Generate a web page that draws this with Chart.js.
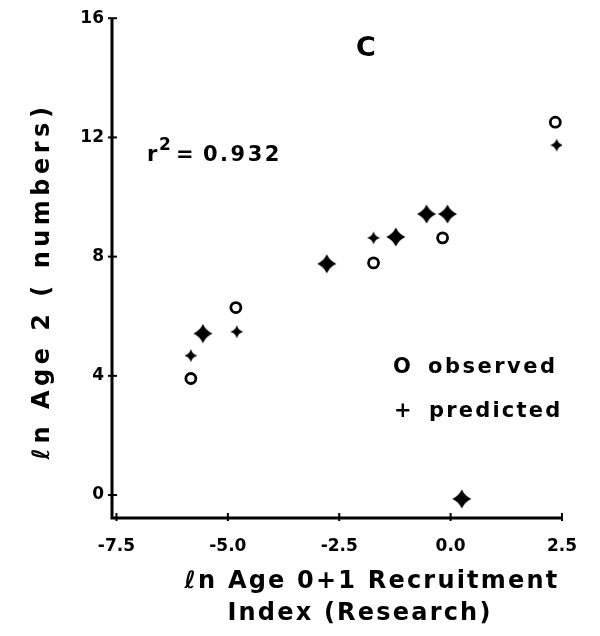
<!DOCTYPE html>
<html>
<head>
<meta charset="utf-8">
<script src="https://cdn.jsdelivr.net/npm/chart.js@4/dist/chart.umd.min.js"></script>
<style>
  html, body { margin: 0; padding: 0; background: #fff; }
  #wrap { width: 600px; height: 636px; }
</style>
</head>
<body>
<div id="wrap"><canvas id="c" width="600" height="636"></canvas></div>
<script>
// ln recruitment index (x) against ln age-2 numbers (y)
const observedX  = [-5.83, -5.56, -4.82, -2.78, -1.73, -1.23, -0.54, -0.07, -0.18, 2.35, 0.25];
const observedY  = [ 3.91,  5.42,  6.29,  7.76,  7.79,  8.66,  9.43,  9.43,  8.63, 12.51, -0.13];
const predictedX = [-5.83, -5.56, -4.80, -2.78, -1.73, -1.23, -0.54, -0.07, 2.38, 0.25];
const predictedY = [ 4.68,  5.42,  5.48,  7.76,  8.63,  8.66,  9.43,  9.43, 11.74, -0.13];
const xTicks = [-7.5, -5.0, -2.5, 0.0, 2.5];
const yTicks = [0, 4, 8, 12, 16];
const rSquared = 0.932;

const FONT = '"DejaVu Sans", sans-serif';

// split into observed-only, predicted-only and coincident points
const obsPts = observedX.map((x, i) => ({ x, y: observedY[i] }));
const predPts = predictedX.map((x, i) => ({ x, y: predictedY[i] }));
const same = (a, b) => a.x === b.x && a.y === b.y;
const bothPts = obsPts.filter(p => predPts.some(q => same(p, q)));
const obsOnly = obsPts.filter(p => !bothPts.some(q => same(p, q)));
const predOnly = predPts.filter(p => !bothPts.some(q => same(p, q)));

// filled four-point star marker
function starMarker(size, pinch) {
  const cv = document.createElement('canvas');
  cv.width = size; cv.height = size;
  const g = cv.getContext('2d');
  const c = size / 2, r = size / 2 - 0.5, k = r * pinch;
  g.fillStyle = '#000';
  g.beginPath();
  g.moveTo(c, c - r);
  g.quadraticCurveTo(c + k, c - k, c + r, c);
  g.quadraticCurveTo(c + k, c + k, c, c + r);
  g.quadraticCurveTo(c - k, c + k, c - r, c);
  g.quadraticCurveTo(c - k, c - k, c, c - r);
  g.fill();
  return cv;
}
const bigStar = starMarker(20, 0.32);
const smallStar = starMarker(14, 0.22);

function spaced(ctx, text, x, y, spacing) {
  ctx.letterSpacing = spacing + 'px';
  ctx.fillText(text, x, y);
  ctx.letterSpacing = '0px';
}

const decor = {
  id: 'decor',
  afterDraw(chart) {
    const { ctx, chartArea: a, scales: { x, y } } = chart;
    ctx.save();
    ctx.strokeStyle = '#000';
    ctx.fillStyle = '#000';
    // axes
    ctx.lineWidth = 3;
    ctx.beginPath();
    ctx.moveTo(a.left, a.top);
    ctx.lineTo(a.left, a.bottom);
    ctx.lineTo(a.right, a.bottom);
    ctx.stroke();
    // tick marks crossing the axes
    ctx.lineWidth = 2;
    yTicks.forEach(v => {
      const p = y.getPixelForValue(v);
      ctx.beginPath(); ctx.moveTo(a.left - 4, p); ctx.lineTo(a.left + 5, p); ctx.stroke();
    });
    xTicks.forEach(v => {
      const p = x.getPixelForValue(v);
      ctx.beginPath(); ctx.moveTo(p, a.bottom - 5); ctx.lineTo(p, a.bottom + 3); ctx.stroke();
    });
    // panel letter and fit statistic
    ctx.textBaseline = 'alphabetic';
    ctx.textAlign = 'center';
    ctx.font = 'bold 27px ' + FONT;
    ctx.fillText('C', 366, 56);
    ctx.textAlign = 'left';
    ctx.font = 'bold 21px ' + FONT;
    ctx.fillText('r', 147, 161);
    ctx.font = 'bold 17px ' + FONT;
    ctx.fillText('2', 159, 150);
    ctx.font = 'bold 21px ' + FONT;
    spaced(ctx, '=', 176, 161, 0);
    spaced(ctx, rSquared.toFixed(3), 203, 161, 2.5);
    // key
    ctx.font = 'bold 21px ' + FONT;
    ctx.fillText('O', 393, 373);
    spaced(ctx, 'observed', 428, 373, 2.5);
    ctx.fillText('+', 394, 417);
    spaced(ctx, 'predicted', 429, 417, 2.2);
    // axis titles
    ctx.textAlign = 'center';
    ctx.font = 'bold 24px ' + FONT;
    spaced(ctx, '\u2113n Age 0+1 Recruitment', 372, 588, 2.2);
    spaced(ctx, 'Index (Research)', 360, 620, 2.2);
    ctx.translate(49, 281);
    ctx.rotate(-Math.PI / 2);
    spaced(ctx, '\u2113n Age 2 ( numbers)', 0, 0, 4.5);
    ctx.restore();
  }
};

new Chart(document.getElementById('c'), {
  type: 'scatter',
  data: {
    datasets: [
      { label: 'observed', data: obsOnly, pointStyle: 'circle', pointRadius: 5,
        borderColor: '#000', backgroundColor: '#fff', borderWidth: 2.8 },
      { label: 'predicted', data: predOnly, pointStyle: smallStar, borderColor: '#000' },
      { label: 'observed = predicted', data: bothPts, pointStyle: bigStar, borderColor: '#000' }
    ]
  },
  options: {
    responsive: false,
    animation: false,
    devicePixelRatio: 1,
    layout: { padding: { left: 0, right: 38, top: 16, bottom: 0 } },
    plugins: { legend: { display: false }, tooltip: { enabled: false } },
    scales: {
      x: {
        type: 'linear', min: -7.6, max: 2.5,
        afterBuildTicks: s => { s.ticks = xTicks.map(v => ({ value: v })); },
        afterFit: s => { s.height = 118; },
        grid: { display: false, drawTicks: false },
        border: { display: false },
        ticks: { color: '#000', padding: 18, font: { family: FONT, size: 17, weight: 'bold' },
                 callback: v => v.toFixed(1), maxRotation: 0, autoSkip: false }
      },
      y: {
        type: 'linear', min: -0.77, max: 16,
        afterBuildTicks: s => { s.ticks = yTicks.map(v => ({ value: v })); },
        afterFit: s => { s.width = 112; },
        grid: { display: false, drawTicks: false },
        border: { display: false },
        ticks: { color: '#000', padding: 8, font: { family: FONT, size: 17, weight: 'bold' },
                 callback: v => String(v) }
      }
    }
  },
  plugins: [decor]
});
</script>
</body>
</html>
